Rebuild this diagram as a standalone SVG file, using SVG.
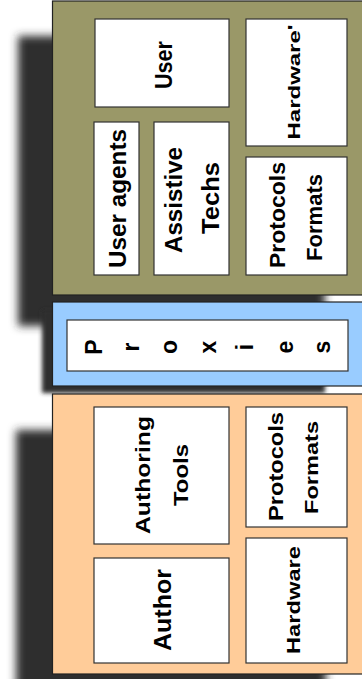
<svg xmlns="http://www.w3.org/2000/svg" width="362" height="679" viewBox="0 0 362 679">
<style>
.panel{stroke:#222;stroke-width:1.2}
.olive{fill:#9a9868}
.blue{fill:#99ccff}
.peach{fill:#ffcc99}
.box{fill:#fff;stroke:#333;stroke-width:1.2}
.shadow{fill:#2e2e2e}
text{font-family:"Liberation Sans",Arial,sans-serif;font-weight:bold;fill:#000;text-anchor:middle}
</style>
<defs>
<filter id="blur" x="-20%" y="-20%" width="140%" height="140%"><feGaussianBlur stdDeviation="4"/></filter>
<filter id="blur2" x="-20%" y="-20%" width="140%" height="140%"><feGaussianBlur stdDeviation="2"/></filter>
</defs>
<rect width="362" height="679" fill="#fff"/>
<g id="shadows">
<rect class="shadow" x="18" y="36" width="307" height="290" filter="url(#blur)"/>
<rect class="shadow" x="42" y="310" width="283" height="83" filter="url(#blur2)"/>
<rect class="shadow" x="16" y="430" width="310" height="300" filter="url(#blur)"/>
</g>
<g id="user-side">
<rect class="panel olive" x="52.5" y="1" width="320" height="294"/>
<g id="user"><rect class="box" x="95" y="19" width="134" height="88"/>
<text transform="translate(172,65) rotate(-90)" font-size="24" textLength="48" lengthAdjust="spacingAndGlyphs">User</text></g>
<g id="hardware-prime"><rect class="box" x="246" y="19" width="101" height="127"/>
<text transform="translate(300,82) rotate(-90)" font-size="17" textLength="115" lengthAdjust="spacingAndGlyphs">Hardware'</text></g>
<g id="user-agents"><rect class="box" x="94" y="122" width="45" height="153"/>
<text transform="translate(126,198.5) rotate(-90)" font-size="23" textLength="139" lengthAdjust="spacingAndGlyphs">User agents</text></g>
<g id="assistive-techs"><rect class="box" x="154" y="122" width="75" height="153"/>
<text transform="translate(182,200) rotate(-90)" font-size="23" textLength="106" lengthAdjust="spacingAndGlyphs">Assistive</text>
<text transform="translate(219,198) rotate(-90)" font-size="23" textLength="72" lengthAdjust="spacingAndGlyphs">Techs</text></g>
<g id="protocols-formats-user"><rect class="box" x="246" y="157" width="101" height="118"/>
<text transform="translate(285,215) rotate(-90)" font-size="22" textLength="106" lengthAdjust="spacingAndGlyphs">Protocols</text>
<text transform="translate(322,217.5) rotate(-90)" font-size="22" textLength="87" lengthAdjust="spacingAndGlyphs">Formats</text></g>
</g>
<g id="proxies">
<rect class="panel blue" x="52.5" y="302" width="320" height="84"/>
<rect class="box" x="67" y="320" width="281" height="51"/>
<g font-size="23">
<text transform="translate(102,347) rotate(-90)">P</text>
<text transform="translate(139,347) rotate(-90)">r</text>
<text transform="translate(177,347) rotate(-90)">o</text>
<text transform="translate(216,347) rotate(-90)">x</text>
<text transform="translate(253,347) rotate(-90)">i</text>
<text transform="translate(293,347) rotate(-90)">e</text>
<text transform="translate(330,347) rotate(-90)">s</text>
</g>
</g>
<g id="author-side">
<rect class="panel peach" x="52.5" y="394" width="320" height="280"/>
<g id="authoring-tools"><rect class="box" x="94" y="407" width="135" height="137"/>
<text transform="translate(150,475) rotate(-90)" font-size="21" textLength="118" lengthAdjust="spacingAndGlyphs">Authoring</text>
<text transform="translate(188,475) rotate(-90)" font-size="21" textLength="62" lengthAdjust="spacingAndGlyphs">Tools</text></g>
<g id="author"><rect class="box" x="94" y="558" width="135" height="105"/>
<text transform="translate(171,610) rotate(-90)" font-size="23" textLength="82" lengthAdjust="spacingAndGlyphs">Author</text></g>
<g id="protocols-formats-author"><rect class="box" x="246" y="407" width="101" height="120"/>
<text transform="translate(283,466.5) rotate(-90)" font-size="21" textLength="109" lengthAdjust="spacingAndGlyphs">Protocols</text>
<text transform="translate(318,467.5) rotate(-90)" font-size="19" textLength="93" lengthAdjust="spacingAndGlyphs">Formats</text></g>
<g id="hardware"><rect class="box" x="246" y="538" width="101" height="125"/>
<text transform="translate(300,600) rotate(-90)" font-size="18" textLength="108" lengthAdjust="spacingAndGlyphs">Hardware</text></g>
</g>
</svg>
